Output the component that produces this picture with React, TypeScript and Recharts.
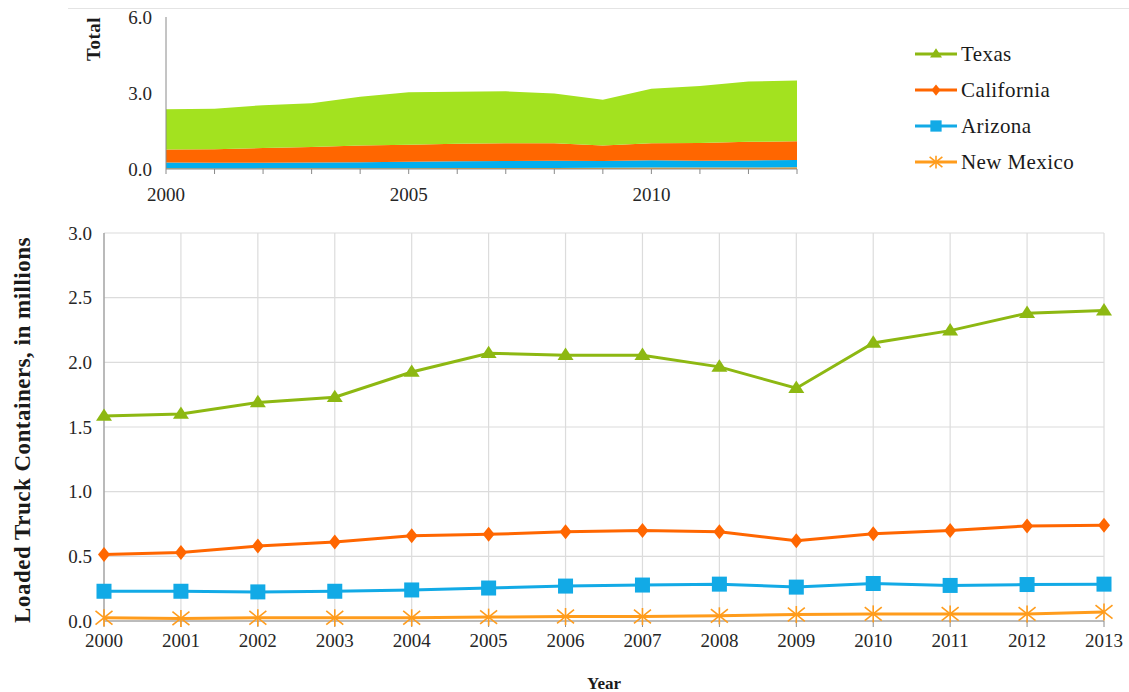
import React from 'react';
import {
  LineChart,
  Line,
  XAxis,
  YAxis,
  CartesianGrid,
  AreaChart,
  Area,
  Label,
  Legend,
} from 'recharts';

const years = [2000, 2001, 2002, 2003, 2004, 2005, 2006, 2007, 2008, 2009, 2010, 2011, 2012, 2013];
const texas = [1.585, 1.6, 1.69, 1.73, 1.925, 2.07, 2.055, 2.055, 1.965, 1.8, 2.15, 2.245, 2.38, 2.4];
const california = [0.515, 0.53, 0.58, 0.61, 0.66, 0.67, 0.69, 0.7, 0.69, 0.62, 0.675, 0.7, 0.735, 0.74];
const arizona = [0.23, 0.23, 0.225, 0.23, 0.24, 0.255, 0.27, 0.278, 0.285, 0.262, 0.29, 0.275, 0.282, 0.285];
const newMexico = [0.025, 0.02, 0.025, 0.025, 0.025, 0.03, 0.035, 0.035, 0.04, 0.05, 0.055, 0.055, 0.055, 0.07];

const mainYTicks = [0, 0.5, 1, 1.5, 2, 2.5, 3];
const topYTicks = [0, 3, 6];
const topXLabels = [2000, 2005, 2010];

const FONT = '"Liberation Serif", "DejaVu Serif", serif';

const TX_LINE = '#8db812';
const TX_AREA = '#a3e21f';
const CA = '#ff6600';
const AZ_LINE = '#12aae6';
const AZ_AREA = '#02aeee';
const NM = '#ff9c1c';

const data = years.map((y, i) => ({
  year: y,
  texas: texas[i],
  california: california[i],
  arizona: arizona[i],
  newMexico: newMexico[i],
}));

type Shape = 'triangle' | 'diamond' | 'square' | 'star';

const drawShape = (shape: Shape, cx: number, cy: number, color: string, s: number, key?: any) => {
  if (cx == null || cy == null) return null;
  if (shape === 'triangle') {
    return (
      <path key={key} d={`M${cx},${cy - s * 0.95} L${cx + s},${cy + s * 0.6} L${cx - s},${cy + s * 0.6} Z`} fill={color} />
    );
  }
  if (shape === 'diamond') {
    return <path key={key} d={`M${cx},${cy - s} L${cx + s * 0.8},${cy} L${cx},${cy + s} L${cx - s * 0.8},${cy} Z`} fill={color} />;
  }
  if (shape === 'square') {
    return <rect key={key} x={cx - s} y={cy - s} width={s * 2} height={s * 2} fill={color} />;
  }
  const d = s;
  return (
    <g key={key} stroke={color} strokeWidth={1.6} fill="none">
      <line x1={cx - d} y1={cy - d * 0.8} x2={cx + d} y2={cy + d * 0.8} />
      <line x1={cx - d} y1={cy + d * 0.8} x2={cx + d} y2={cy - d * 0.8} />
      <line x1={cx} y1={cy - d} x2={cx} y2={cy + d} />
    </g>
  );
};

const series: { key: string; name: string; color: string; area: string; shape: Shape; size: number }[] = [
  { key: 'texas', name: 'Texas', color: TX_LINE, area: TX_AREA, shape: 'triangle', size: 8 },
  { key: 'california', name: 'California', color: CA, area: CA, shape: 'diamond', size: 7.5 },
  { key: 'arizona', name: 'Arizona', color: AZ_LINE, area: AZ_AREA, shape: 'square', size: 7.5 },
  { key: 'newMexico', name: 'New Mexico', color: NM, area: NM, shape: 'star', size: 8.5 },
];

const makeDot = (shape: Shape, color: string, size: number) => (props: any) =>
  drawShape(shape, props.cx, props.cy, color, size, props.key ?? `${shape}-${props.index}`);

const LegendContent = () => (
  <div style={{ fontFamily: FONT }}>
    {series.map((s) => (
      <div key={s.key} style={{ display: 'flex', alignItems: 'center', height: 36 }}>
        <svg width={44} height={20}>
          <line x1={0} y1={10} x2={42} y2={10} stroke={s.color} strokeWidth={3} />
          {drawShape(s.shape, 21, 10, s.color, s.size * 0.75)}
        </svg>
        <span style={{ fontFamily: FONT, fontSize: 21, color: '#1a1a1a', marginLeft: 2, letterSpacing: 0.4 }}>{s.name}</span>
      </div>
    ))}
  </div>
);

const YTitle = (props: any) => {
  const vb = props.viewBox || {};
  const cx = 22;
  const cy = (vb.y ?? 0) + (vb.height ?? 0) / 2 + 3;
  return (
    <text
      x={cx}
      y={cy}
      transform={`rotate(-90, ${cx}, ${cy})`}
      textAnchor="middle"
      dominantBaseline="central"
      style={{ fontFamily: FONT, fontWeight: 'bold', fontSize: 23, letterSpacing: 0.5 }}
      fill="#1a1a1a"
    >
      Loaded Truck Containers, in millions
    </text>
  );
};

const TopTitle = (props: any) => {
  const vb = props.viewBox || {};
  const cx = 93;
  const cy = (vb.y ?? 0) + 22;
  return (
    <text
      x={cx}
      y={cy}
      transform={`rotate(-90, ${cx}, ${cy})`}
      textAnchor="middle"
      dominantBaseline="central"
      style={{ fontFamily: FONT, fontWeight: 'bold', fontSize: 19, letterSpacing: 0.5 }}
      fill="#1a1a1a"
    >
      Total
    </text>
  );
};

const tickStyle = { fontFamily: FONT, fontSize: 19, fill: '#262626' };

export default function App() {
  return (
    <div style={{ position: 'absolute', left: 0, top: 0, width: 1129, height: 692, background: '#fff', fontFamily: FONT }}>
      <div style={{ position: 'absolute', left: 68, top: 8, width: 1061, height: 1, background: '#e4e4e4' }} />
      <div style={{ position: 'absolute', left: 0, top: 0 }}>
        <LineChart width={1129} height={692} data={data} margin={{ top: 233, right: 25, bottom: 0, left: 0 }}>
          <CartesianGrid stroke="#dcdcdc" strokeWidth={1.2} />
          <XAxis
            dataKey="year"
            type="number"
            domain={[2000, 2013]}
            ticks={years}
            height={71}
            tickSize={6}
            tickMargin={7}
            stroke="#8a8a8a"
            tick={{ ...tickStyle, style: { fontFamily: FONT } }}
          >
            <Label
              value="Year"
              position="insideBottom"
              offset={3}
              style={{ fontFamily: FONT, fontWeight: 'bold', fontSize: 17, fill: '#1a1a1a' }}
            />
          </XAxis>
          <YAxis
            domain={[0, 3]}
            ticks={mainYTicks}
            width={104}
            tickSize={0}
            tickMargin={12}
            stroke="#8a8a8a"
            tickFormatter={(v: number) => v.toFixed(1)}
            tick={{ ...tickStyle, style: { fontFamily: FONT } }}
          >
            <Label content={YTitle} />
          </YAxis>
          <Legend
            layout="vertical"
            align="center"
            verticalAlign="middle"
            content={LegendContent}
            wrapperStyle={{ left: 915, top: 36, width: 210, height: 150 }}
          />
          {series.map((s) => (
            <Line
              key={s.key}
              dataKey={s.key}
              name={s.name}
              type="linear"
              stroke={s.color}
              strokeWidth={3}
              dot={makeDot(s.shape, s.color, s.size)}
              activeDot={false}
              isAnimationActive={false}
            />
          ))}
        </LineChart>
      </div>
      <div style={{ position: 'absolute', left: 0, top: 0 }}>
        <AreaChart width={830} height={215} data={data} margin={{ top: 17, right: 33, bottom: 0, left: 0 }}>
          <XAxis
            dataKey="year"
            type="number"
            domain={[2000, 2013]}
            ticks={years}
            height={46}
            tickSize={5}
            tickMargin={14}
            stroke="#8a8a8a"
            tickFormatter={(v: number) => (topXLabels.includes(v) ? String(v) : '')}
            tick={{ ...tickStyle, style: { fontFamily: FONT } }}
          />
          <YAxis
            domain={[0, 6]}
            ticks={topYTicks}
            width={166}
            tickSize={0}
            tickMargin={14}
            stroke="#8a8a8a"
            tickFormatter={(v: number) => v.toFixed(1)}
            tick={{ ...tickStyle, style: { fontFamily: FONT } }}
          >
            <Label content={TopTitle} />
          </YAxis>
          {[...series].reverse().map((s) => (
            <Area
              key={s.key}
              dataKey={s.key}
              name={s.name}
              type="linear"
              stackId="total"
              stroke="none"
              fill={s.area}
              fillOpacity={1}
              dot={false}
              activeDot={false}
              isAnimationActive={false}
            />
          ))}
        </AreaChart>
      </div>
    </div>
  );
}
